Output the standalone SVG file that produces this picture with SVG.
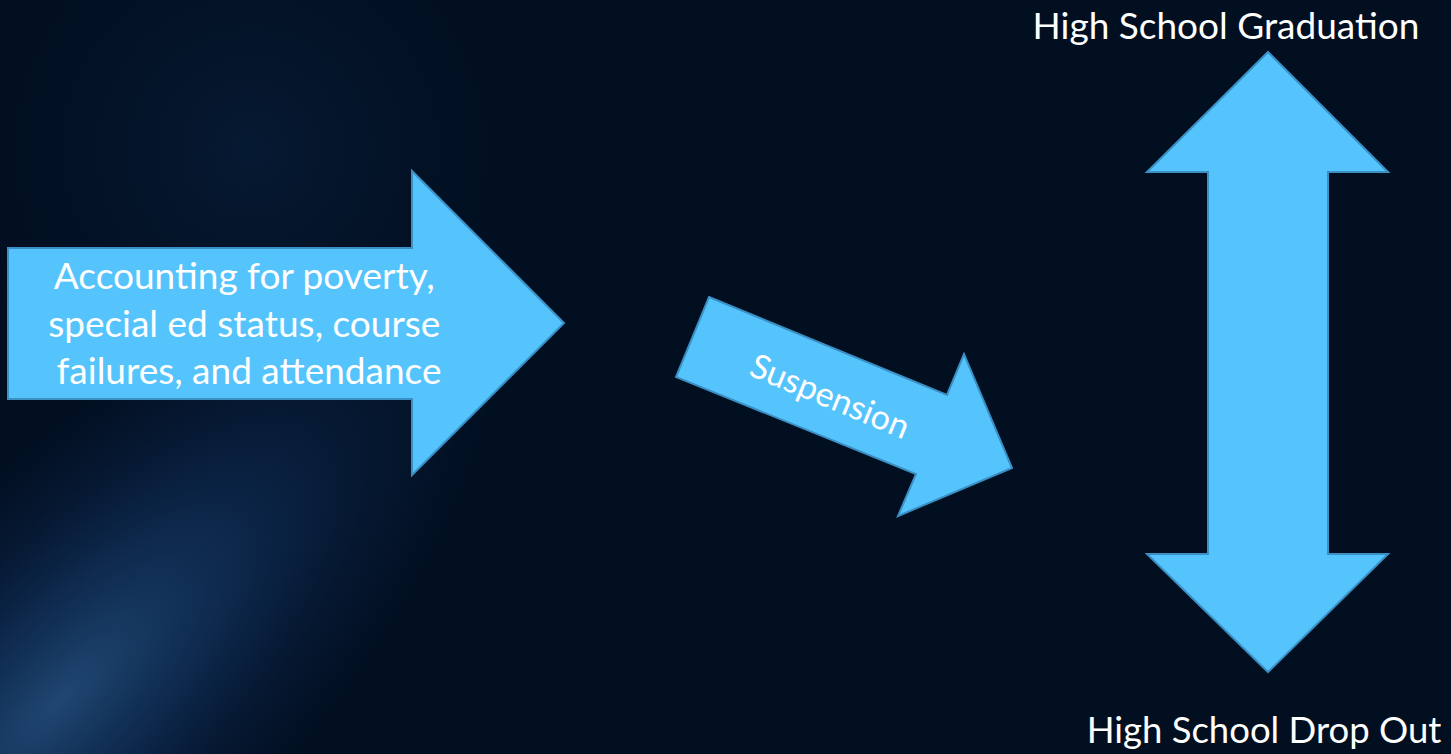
<svg xmlns="http://www.w3.org/2000/svg" width="1451" height="754" viewBox="0 0 1451 754">
<defs>
<radialGradient id="glow" cx="60" cy="700" r="420" gradientUnits="userSpaceOnUse" gradientTransform="rotate(-45 60 700) scale(1.5 0.55) translate(-20 573)">
<stop offset="0" stop-color="#2c5f95" stop-opacity="0.7"/>
<stop offset="0.4" stop-color="#163d70" stop-opacity="0.5"/>
<stop offset="0.75" stop-color="#0a2246" stop-opacity="0.25"/>
<stop offset="1" stop-color="#020e20" stop-opacity="0"/>
</radialGradient>
<radialGradient id="glow2" cx="250" cy="150" r="330" gradientUnits="userSpaceOnUse">
<stop offset="0" stop-color="#0b2546" stop-opacity="0.5"/>
<stop offset="1" stop-color="#020e20" stop-opacity="0"/>
</radialGradient>
<style>
.arrow{fill:#56c4fc;stroke:#3a8fc4;stroke-width:2;stroke-linejoin:miter}
.lbl{font-family:Lato,"Open Sans","Liberation Sans",sans-serif;fill:#ffffff}
</style>
</defs>
<rect width="1451" height="754" fill="#020f21"/>
<rect width="1451" height="754" fill="url(#glow2)"/>
<rect width="1451" height="754" fill="url(#glow)"/>
<g id="node-factors">
<polygon class="arrow" points="8,248 412,248 412,171 564,323 412,475 412,399 8,399"/>
<text class="lbl" font-size="37" text-anchor="middle">
<tspan x="249" y="289">Accounting for poverty,</tspan>
<tspan x="249" y="337">special ed status, course</tspan>
<tspan x="249" y="384">failures, and attendance</tspan>
</text>
</g>
<g id="node-suspension">
<polygon class="arrow" points="709,297 947,395 964,354 1012,468 898,516 916,474 676,377"/>
<text class="lbl" font-size="34" text-anchor="middle" transform="translate(830,396) rotate(22.5)" y="12">Suspension</text>
</g>
<g id="node-outcome">
<polygon class="arrow" points="1268,52 1388,172 1328,172 1328,554 1388,554 1268,672 1147,554 1208,554 1208,172 1147,172"/>
</g>
<g id="node-graduation">
<text class="lbl" font-size="37" text-anchor="middle" x="1226" y="39">High School Graduation</text>
</g>
<g id="node-dropout">
<text class="lbl" font-size="36.5" text-anchor="middle" x="1264" y="743">High School Drop Out</text>
</g>
<g id="connectors"></g>
</svg>
